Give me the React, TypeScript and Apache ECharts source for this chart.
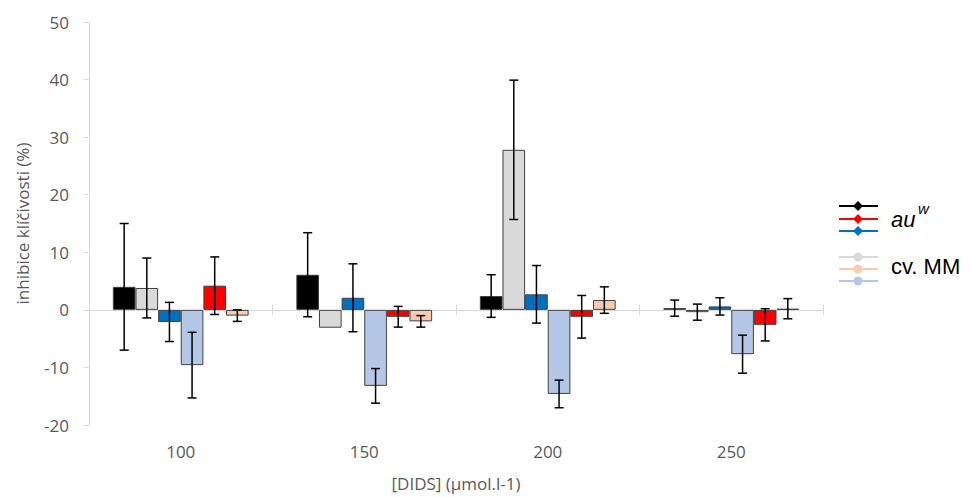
import React, { useEffect, useRef } from 'react';
import * as echarts from 'echarts';

const categories = ['100', '150', '200', '250'];
const yTicks = { min: -20, max: 50, interval: 10 };

// bar order within each group
const auBlack = [4.0, 6.1, 2.4, 0.3];
const auBlackErr = [11.0, 7.3, 3.7, 1.4];
const mmGray = [3.8, -3.1, 27.8, -0.4];
const mmGrayErr = [5.2, 0, 12.1, 1.4];
const auBlue = [-2.1, 2.1, 2.7, 0.6];
const auBlueErr = [3.4, 5.9, 5.0, 1.5];
const mmLightBlue = [-9.6, -13.2, -14.6, -7.7];
const mmLightBlueErr = [5.7, 3.0, 2.4, 3.3];
const auRed = [4.2, -1.2, -1.2, -2.6];
const auRedErr = [5.0, 1.8, 3.7, 2.8];
const mmPeach = [-1.0, -2.0, 1.7, 0.2];
const mmPeachErr = [1.0, 1.0, 2.3, 1.75];

const barValues = [auBlack, mmGray, auBlue, mmLightBlue, auRed, mmPeach];
const barErrors = [auBlackErr, mmGrayErr, auBlueErr, mmLightBlueErr, auRedErr, mmPeachErr];
const barNames = ['au^w (1)', 'cv. MM (1)', 'au^w (2)', 'cv. MM (2)', 'au^w (3)', 'cv. MM (3)'];
const barColors = ['#000000', '#d9d9d9', '#0070c0', '#b4c7e7', '#ff0000', '#f8cbad'];

const CAT_GAP = 0.26;
const FONT = '"Open Sans", "Liberation Sans", sans-serif';
const LEGEND_FONT = '"Liberation Sans", Arial, sans-serif';
const AXIS_GRAY = '#d9d9d9';
const TEXT_GRAY = '#595959';

export default function App() {
  const ref = useRef<HTMLDivElement>(null);
  useEffect(() => {
    if (!ref.current) return;
    const chart = echarts.init(ref.current, undefined, { renderer: 'svg' });
    const nBars = barValues.length;

    const barSeries = barValues.map((vals, i) => ({
      type: 'bar',
      name: barNames[i],
      xAxisIndex: 0,
      yAxisIndex: 0,
      data: vals,
      barGap: '0%',
      barCategoryGap: `${CAT_GAP * 100}%`,
      itemStyle: { color: barColors[i], borderColor: '#404040', borderWidth: 1 },
      z: 3,
    }));

    const errSeries = barValues.map((vals, i) => ({
      type: 'custom',
      name: barNames[i] + ' err',
      xAxisIndex: 0,
      yAxisIndex: 0,
      z: 5,
      data: vals.map((v, c) => [c, v, barErrors[i][c]]),
      renderItem: (params: any, api: any) => {
        const cat = api.value(0);
        const v = api.value(1);
        const e = api.value(2);
        if (!e) return null;
        const center = api.coord([cat, v]);
        const bandW = api.size([1, 0])[0];
        const barW = (bandW * (1 - CAT_GAP)) / nBars;
        const x = center[0] + (i - (nBars - 1) / 2) * barW;
        const top = api.coord([cat, v + e])[1];
        const bot = api.coord([cat, v - e])[1];
        const half = 4.5;
        const style = { stroke: '#000', lineWidth: 1.5 };
        return {
          type: 'group',
          children: [
            { type: 'line', shape: { x1: x, y1: top, x2: x, y2: bot }, style },
            { type: 'line', shape: { x1: x - half, y1: top, x2: x + half, y2: top }, style },
            { type: 'line', shape: { x1: x - half, y1: bot, x2: x + half, y2: bot }, style },
          ],
        };
      },
    }));

    const lx1 = 839, lx2 = 878, mx = 858;
    const auLines = [
      { y: 206, color: '#000000' },
      { y: 219, color: '#ff0000' },
      { y: 231, color: '#0070c0' },
    ];
    const mmLines = [
      { y: 257, color: '#d9d9d9' },
      { y: 269, color: '#f8cbad' },
      { y: 281, color: '#b4c7e7' },
    ];
    const legendEls: any[] = [];
    auLines.forEach((l) => {
      legendEls.push({ type: 'line', shape: { x1: lx1, y1: l.y, x2: lx2, y2: l.y }, style: { stroke: l.color, lineWidth: 2 } });
      legendEls.push({
        type: 'polygon',
        shape: { points: [[mx, l.y - 5], [mx + 5, l.y], [mx, l.y + 5], [mx - 5, l.y]] },
        style: { fill: l.color },
      });
    });
    mmLines.forEach((l) => {
      legendEls.push({ type: 'line', shape: { x1: lx1, y1: l.y, x2: lx2, y2: l.y }, style: { stroke: l.color, lineWidth: 2 } });
      legendEls.push({ type: 'circle', shape: { cx: mx, cy: l.y, r: 4.5 }, style: { fill: l.color } });
    });
    legendEls.push({
      type: 'text', x: 891, y: 219,
      style: { text: 'au', font: `italic 22px ${LEGEND_FONT}`, fill: '#000', verticalAlign: 'middle' },
    });
    legendEls.push({
      type: 'text', x: 918, y: 208,
      style: { text: 'w', font: `italic 15px ${LEGEND_FONT}`, fill: '#000', verticalAlign: 'middle' },
    });
    legendEls.push({
      type: 'text', x: 891, y: 266,
      style: { text: 'cv. MM', font: `22px ${LEGEND_FONT}`, fill: '#000', verticalAlign: 'middle' },
    });

    const option: any = {
      animation: false,
      backgroundColor: '#ffffff',
      grid: { left: 89, right: 148, top: 22, bottom: 72, containLabel: false },
      xAxis: [
        {
          type: 'category',
          data: categories,
          position: 'bottom',
          axisLine: { show: false, onZero: false },
          axisTick: { show: false },
          axisLabel: { color: TEXT_GRAY, fontSize: 17, fontFamily: FONT, margin: 18 },
          name: '[DIDS] (µmol.l-1)',
          nameLocation: 'middle',
          nameGap: 50,
          nameTextStyle: { color: TEXT_GRAY, fontSize: 17, fontFamily: FONT },
        },
        {
          type: 'category',
          data: categories,
          axisLine: { show: true, onZero: true, lineStyle: { color: AXIS_GRAY, width: 1 } },
          axisTick: { show: true, length: 5, lineStyle: { color: AXIS_GRAY } },
          axisLabel: { show: false },
        },
        {
          type: 'category',
          data: categories,
          axisLine: { show: false, onZero: true, onZeroAxisIndex: 1 },
          axisTick: { show: true, inside: true, length: 5, lineStyle: { color: AXIS_GRAY } },
          axisLabel: { show: false },
        },
      ],
      yAxis: [
        {
          type: 'value',
          min: yTicks.min,
          max: yTicks.max,
          interval: yTicks.interval,
          axisLine: { show: true, lineStyle: { color: AXIS_GRAY } },
          axisTick: { show: true, length: 5, lineStyle: { color: AXIS_GRAY } },
          splitLine: { show: false },
          axisLabel: { color: TEXT_GRAY, fontSize: 17, fontFamily: FONT, margin: 20 },
          name: 'inhibice klíčivosti (%)',
          nameLocation: 'middle',
          nameGap: 58,
          nameTextStyle: { color: TEXT_GRAY, fontSize: 17, fontFamily: FONT },
        },
        {
          type: 'value',
          min: yTicks.min,
          max: yTicks.max,
          interval: yTicks.interval,
          show: false,
          splitLine: { show: false },
        },
      ],
      series: [...barSeries, ...errSeries],
      graphic: legendEls,
    };
    chart.setOption(option);
    return () => chart.dispose();
  }, []);
  return <div ref={ref} style={{ width: 971, height: 497, position: 'absolute', left: 0, top: 0 }} />;
}
